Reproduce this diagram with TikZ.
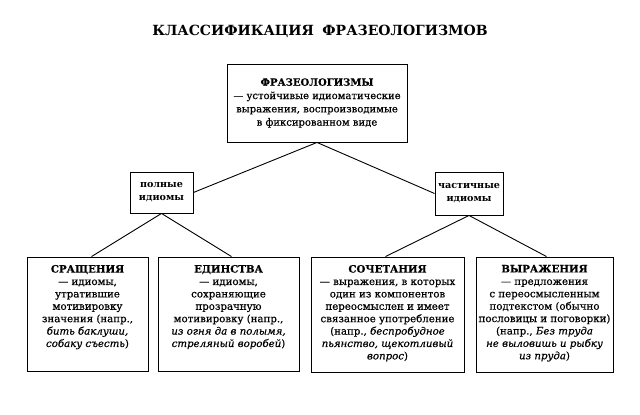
\documentclass[tikz,border=0pt]{standalone}
\usepackage{fontspec}
\setmainfont{DejaVu Serif}
\newfontfamily\heavy{DejaVu Serif}[FakeBold=0.6]
\begin{document}
\begin{tikzpicture}[x=1pt,y=-1pt,
  box/.style={draw,line width=0.9pt,inner sep=0pt,align=center},
  conn/.style={line width=0.9pt},
  bodyf/.style={font=\heavy\fontsize{10.2}{12.4}\selectfont}]
\useasboundingbox (0,0) rectangle (640,415);
\node[font=\fontsize{14}{16}\selectfont\bfseries] (title) at (320,31) {КЛАССИФИКАЦИЯ\hspace{0.6em}ФРАЗЕОЛОГИЗМОВ};
\node[box,minimum width=180pt,minimum height=78pt,font=\heavy\fontsize{10}{13.3}\selectfont] (top) at (317,103)
  {\textbf{ФРАЗЕОЛОГИЗМЫ}\\— устойчивые идиоматические\\выражения, воспроизводимые\\в фиксированном виде};
\node[box,minimum width=63pt,minimum height=41pt,font=\fontsize{9.6}{13}\selectfont\bfseries] (pol) at (161.5,192.5) {полные\\идиомы};
\node[box,minimum width=68pt,minimum height=43pt,font=\fontsize{9.6}{13}\selectfont\bfseries] (chast) at (469,193.5) {частичные\\идиомы};
\node[box,bodyf] (sr) at (87.5,314) {\parbox[c][114pt][t]{121pt}{\centering\vspace{8pt}
  \textbf{СРАЩЕНИЯ}\\— идиомы,\\утратившие\\мотивировку\\значения (напр.,\\\textit{бить баклуши,}\\\textit{собаку съесть})}};
\node[box,bodyf] (ed) at (228.5,314) {\parbox[c][114pt][t]{141pt}{\centering\vspace{8pt}
  \textbf{ЕДИНСТВА}\\— идиомы,\\сохраняющие\\прозрачную\\мотивировку (напр.,\\\textit{из огня да в полымя,}\\\textit{стреляный воробей})}};
\node[box,bodyf] (so) at (387.5,314.5) {\parbox[c][115pt][t]{153pt}{\centering\vspace{8pt}
  \textbf{СОЧЕТАНИЯ}\\— выражения, в которых\\один из компонентов\\переосмыслен и имеет\\связанное употребление\\(напр., \textit{беспробудное}\\\textit{пьянство, щекотливый}\\\textit{вопрос})}};
\node[box,bodyf] (vy) at (544.5,314.5) {\parbox[c][115pt][t]{137pt}{\centering\vspace{8pt}
  \textbf{ВЫРАЖЕНИЯ}\\— предложения\\с переосмысленным\\подтекстом (обычно\\пословицы и поговорки)\\(напр., \textit{Без труда}\\\textit{не выловишь и рыбку}\\\textit{из пруда})}};
\draw[conn] (top.south) -- (pol.east);
\draw[conn] (top.south) -- (chast.west);
\draw[conn] (pol.south) -- ([xshift=4pt]sr.north);
\draw[conn] (pol.south) -- ([xshift=3pt]ed.north);
\draw[conn] (chast.south) -- ([xshift=-2pt]so.north);
\draw[conn] (chast.south) -- ([xshift=2pt]vy.north);
\end{tikzpicture}
\end{document}
